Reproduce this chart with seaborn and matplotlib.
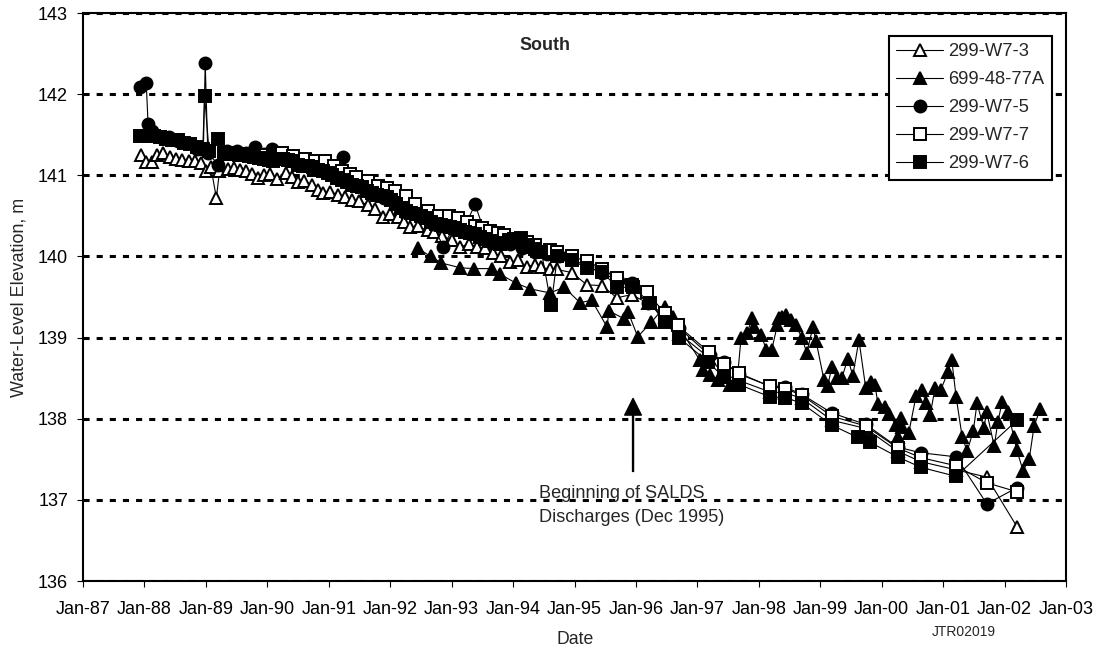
#!/usr/bin/env python3
import matplotlib
matplotlib.use("Agg")
import matplotlib.pyplot as plt
import matplotlib.dates as mdates
import pandas as pd
import seaborn as sns

# sample times as decimal years, elevations in metres
W73_YEARS = [1987.95, 1988.03, 1988.12, 1988.2, 1988.3, 1988.42, 1988.52, 1988.62, 1988.72, 1988.82, 1988.92, 1989.0,
             1989.08, 1989.17, 1989.22, 1989.36, 1989.46, 1989.55, 1989.65, 1989.75, 1989.85, 1989.95, 1990.05,
             1990.16, 1990.3, 1990.4, 1990.5, 1990.6, 1990.73, 1990.82, 1990.9, 1991.02, 1991.15, 1991.27, 1991.38,
             1991.5, 1991.64, 1991.76, 1991.88, 1992.0, 1992.13, 1992.22, 1992.32, 1992.45, 1992.62, 1992.72,
             1992.85, 1993.0, 1993.14, 1993.28, 1993.41, 1993.55, 1993.67, 1993.8, 1993.95, 1994.08, 1994.22,
             1994.35, 1994.45, 1994.6, 1994.71, 1994.96, 1995.2, 1995.45, 1995.69, 1995.93, 1996.2, 1996.47, 1996.7,
             1997.19, 1997.43, 1997.68, 1998.18, 1998.43, 1998.7, 1999.19, 1999.74, 2000.26, 2000.64, 2001.21,
             2001.71, 2002.2]
W73_ELEV = [141.25, 141.16, 141.16, 141.25, 141.28, 141.22, 141.2, 141.19, 141.18, 141.17, 141.15, 141.05,
            141.1, 140.72, 141.05, 141.08, 141.09, 141.07, 141.05, 141.02, 140.97, 141.0, 141.02,
            140.96, 141.03, 140.98, 140.92, 140.93, 140.88, 140.82, 140.78, 140.8, 140.76, 140.73, 140.7,
            140.68, 140.63, 140.58, 140.49, 140.52, 140.49, 140.43, 140.36, 140.37, 140.32, 140.3,
            140.25, 140.2, 140.12, 140.15, 140.12, 140.1, 140.04, 140.0, 139.93, 139.95, 139.87,
            139.9, 139.87, 139.84, 139.84, 139.8, 139.65, 139.64, 139.49, 139.53, 139.42, 139.25, 139.05,
            138.75, 138.55, 138.47, 138.33, 138.32, 138.25, 137.98, 137.88, 137.6, 137.47, 137.37,
            137.28, 136.67]

A77_YEARS = [1992.45, 1992.66, 1992.83, 1993.14, 1993.36, 1993.66, 1993.79, 1994.05, 1994.28, 1994.6, 1994.83,
             1995.09, 1995.28, 1995.53, 1995.56, 1995.81, 1995.87, 1996.03, 1996.25, 1996.47, 1996.6, 1997.04,
             1997.09, 1997.2, 1997.34, 1997.53, 1997.64, 1997.71, 1997.81, 1997.89, 1997.92, 1998.04, 1998.12,
             1998.21, 1998.3, 1998.33, 1998.38, 1998.44, 1998.52, 1998.6, 1998.7, 1998.78, 1998.88, 1998.93,
             1999.06, 1999.12, 1999.19, 1999.27, 1999.35, 1999.45, 1999.53, 1999.63, 1999.74, 1999.83, 1999.89,
             1999.94, 2000.05, 2000.12, 2000.23, 2000.26, 2000.31, 2000.33, 2000.44, 2000.56, 2000.66, 2000.72,
             2000.79, 2000.87, 2000.96, 2001.08, 2001.14, 2001.21, 2001.31, 2001.39, 2001.49, 2001.55, 2001.66,
             2001.71, 2001.83, 2001.89, 2001.96, 2002.06, 2002.15, 2002.2, 2002.3, 2002.4, 2002.48, 2002.58]
A77_ELEV = [140.1, 140.0, 139.92, 139.86, 139.85, 139.85, 139.78, 139.67, 139.6, 139.55, 139.62,
            139.43, 139.46, 139.13, 139.33, 139.23, 139.32, 139.01, 139.19, 139.38, 139.25, 138.72,
            138.6, 138.54, 138.48, 138.42, 138.42, 139.0, 139.06, 139.24, 139.13, 139.03, 138.85,
            138.85, 139.15, 139.24, 139.25, 139.28, 139.22, 139.15, 139.0, 138.81, 139.13, 138.96,
            138.48, 138.4, 138.64, 138.5, 138.5, 138.74, 138.53, 138.97, 138.38, 138.45, 138.42,
            138.18, 138.14, 138.06, 137.92, 137.77, 138.01, 137.9, 137.82, 138.28, 138.35, 138.19,
            138.05, 138.38, 138.35, 138.58, 138.72, 138.27, 137.77, 137.6, 137.85, 138.19, 137.89,
            138.08, 137.66, 137.96, 138.21, 138.08, 137.77, 137.61, 137.36, 137.5, 137.91, 138.12]

W75_YEARS = [1987.93, 1988.03, 1988.06, 1988.12, 1988.25, 1988.4, 1988.55, 1988.7, 1988.85, 1988.96, 1988.99, 1989.03,
             1989.2, 1989.35, 1989.5, 1989.65, 1989.8, 1989.95, 1990.08, 1990.25, 1990.4, 1990.6, 1990.8, 1991.0,
             1991.12, 1991.23, 1991.35, 1991.5, 1991.7, 1991.9, 1992.1, 1992.3, 1992.5, 1992.7, 1992.86, 1993.05,
             1993.2, 1993.38, 1993.55, 1993.75, 1993.95, 1994.15, 1994.35, 1994.55, 1994.75, 1994.95, 1995.2,
             1995.45, 1995.7, 1995.93, 1996.2, 1996.47, 1996.7, 1997.2, 1997.43, 1997.68, 1998.18, 1998.43, 1998.7,
             1999.19, 1999.74, 2000.26, 2000.64, 2001.21, 2001.71, 2002.2]
W75_ELEV = [142.09, 142.14, 141.63, 141.55, 141.47, 141.47, 141.42, 141.4, 141.33, 141.32, 142.38, 141.28,
            141.13, 141.3, 141.3, 141.27, 141.35, 141.26, 141.33, 141.22, 141.18, 141.13, 141.1, 141.03,
            141.0, 141.23, 140.95, 140.88, 140.8, 140.72, 140.65, 140.56, 140.48, 140.4, 140.12, 140.38,
            140.35, 140.64, 140.27, 140.2, 140.15, 140.1, 140.05, 140.03, 140.0, 139.97, 139.88,
            139.8, 139.7, 139.67, 139.42, 139.28, 139.12, 138.78, 138.7, 138.55, 138.4, 138.39, 138.3,
            138.07, 137.93, 137.65, 137.58, 137.53, 136.95, 137.15]

W77_YEARS = [1989.3, 1989.6, 1989.9, 1990.24, 1990.42, 1990.61, 1990.78, 1990.94, 1991.08, 1991.22, 1991.34, 1991.45,
             1991.64, 1991.8, 1991.95, 1992.08, 1992.25, 1992.4, 1992.62, 1992.8, 1992.95, 1993.1, 1993.25, 1993.38,
             1993.5, 1993.62, 1993.75, 1993.85, 1994.1, 1994.22, 1994.36, 1994.6, 1994.71, 1994.96, 1995.2,
             1995.45, 1995.69, 1995.93, 1996.18, 1996.47, 1996.68, 1997.19, 1997.43, 1997.68, 1998.18, 1998.43,
             1998.7, 1999.19, 1999.74, 2000.26, 2000.64, 2001.21, 2001.71, 2002.2]
W77_ELEV = [141.26, 141.26, 141.25, 141.27, 141.24, 141.2, 141.18, 141.17, 141.11, 141.05, 141.01, 140.98,
            140.93, 140.87, 140.84, 140.81, 140.74, 140.65, 140.56, 140.5, 140.5, 140.47, 140.42, 140.38,
            140.35, 140.31, 140.29, 140.26, 140.22, 140.18, 140.14, 140.08, 140.06, 140.0, 139.94,
            139.85, 139.73, 139.65, 139.56, 139.3, 139.15, 138.82, 138.68, 138.56, 138.4, 138.37,
            138.29, 138.03, 137.91, 137.64, 137.52, 137.42, 137.21, 137.1]

W76_YEARS = [1987.93, 1988.05, 1988.15, 1988.25, 1988.35, 1988.45, 1988.55, 1988.65, 1988.75, 1988.85, 1988.95,
             1988.98, 1989.05, 1989.2, 1989.3, 1989.38, 1989.46, 1989.54, 1989.62, 1989.7, 1989.78, 1989.86, 1989.94,
             1990.02, 1990.1, 1990.18, 1990.26, 1990.34, 1990.42, 1990.5, 1990.58, 1990.66, 1990.74, 1990.82,
             1990.9, 1990.98, 1991.06, 1991.14, 1991.22, 1991.3, 1991.38, 1991.46, 1991.54, 1991.62, 1991.7,
             1991.78, 1991.86, 1991.94, 1992.02, 1992.1, 1992.18, 1992.26, 1992.34, 1992.42, 1992.5, 1992.58,
             1992.66, 1992.74, 1992.82, 1992.9, 1992.98, 1993.06, 1993.14, 1993.22, 1993.3, 1993.38, 1993.46,
             1993.54, 1993.62, 1993.7, 1993.78, 1993.86, 1993.94, 1994.02, 1994.13, 1994.25, 1994.36, 1994.46,
             1994.62, 1994.72, 1994.96, 1995.2, 1995.45, 1995.69, 1995.95, 1996.23, 1996.47, 1996.7, 1997.17,
             1997.43, 1997.68, 1998.18, 1998.43, 1998.7, 1999.19, 1999.61, 1999.81, 2000.26, 2000.64, 2001.21, 2002.2]
W76_ELEV = [141.49, 141.48, 141.48, 141.47, 141.45, 141.44, 141.43, 141.4, 141.38, 141.35, 141.33,
            141.98, 141.3, 141.45, 141.28, 141.27, 141.26, 141.25, 141.25, 141.24, 141.22, 141.21, 141.2,
            141.19, 141.17, 141.2, 141.2, 141.19, 141.17, 141.13, 141.12, 141.12, 141.1, 141.07,
            141.05, 141.03, 141.0, 140.97, 140.94, 140.92, 140.88, 140.87, 140.85, 140.81, 140.78,
            140.76, 140.75, 140.73, 140.7, 140.64, 140.6, 140.56, 140.54, 140.52, 140.5, 140.47,
            140.43, 140.4, 140.39, 140.38, 140.36, 140.35, 140.32, 140.3, 140.29, 140.28, 140.24,
            140.22, 140.19, 140.17, 140.15, 140.17, 140.2, 140.21, 140.23, 140.12, 140.09, 140.06,
            139.4, 140.0, 139.95, 139.86, 139.81, 139.62, 139.62, 139.43, 139.19, 139.0, 138.7,
            138.51, 138.42, 138.27, 138.26, 138.19, 137.92, 137.77, 137.71, 137.53, 137.4, 137.29, 137.98]

Y_TICKS = [136, 137, 138, 139, 140, 141, 142, 143]


def to_dates(years):
    return [pd.Timestamp(year=int(y), month=1, day=1) + pd.Timedelta(days=(y % 1) * 365.25) for y in years]


sns.set_style("white")
plt.rcParams["font.family"] = ["Liberation Sans", "DejaVu Sans"]

W, H = 1099, 651
fig = plt.figure(figsize=(W / 100, H / 100), dpi=100)
ax = fig.add_axes([83 / W, (H - 581) / H, (1066 - 83) / W, (581 - 13) / H])

# draw order matters, the 299-W7-6 squares end up on top
series = [
    ("299-W7-3", W73_YEARS, W73_ELEV, "^", "white", 8.6),
    ("699-48-77A", A77_YEARS, A77_ELEV, "^", "black", 9.2),
    ("299-W7-5", W75_YEARS, W75_ELEV, "o", "black", 8.6),
    ("299-W7-7", W77_YEARS, W77_ELEV, "s", "white", 8.4),
    ("299-W7-6", W76_YEARS, W76_ELEV, "s", "black", 8.6),
]
for name, years, elev, marker, face, size in series:
    sns.lineplot(x=to_dates(years), y=elev, ax=ax, sort=False, estimator=None, errorbar=None,
                 color="black", linewidth=0.8, marker=marker, markersize=size,
                 markerfacecolor=face, markeredgecolor="black", markeredgewidth=1.4,
                 label=name, zorder=3)

ax.set_xlim(pd.Timestamp("1987-01-01"), pd.Timestamp("2003-01-01"))
ax.set_ylim(136, 143)
ax.set_yticks(Y_TICKS)
ax.xaxis.set_major_locator(mdates.YearLocator())
ax.xaxis.set_major_formatter(mdates.DateFormatter("%b-%y"))

ax.set_axisbelow(True)
ax.grid(axis="y", color="black", linewidth=2.2, linestyle=(0, (2.0, 2.3)))
ax.grid(axis="x", visible=False)
for spine in ax.spines.values():
    spine.set_visible(True)
    spine.set_color("black")
    spine.set_linewidth(1.5)
ax.tick_params(axis="both", which="major", direction="out", length=4.3, width=0.8,
               color="black", labelcolor="black", labelsize=13, bottom=True, left=True)
ax.tick_params(axis="x", pad=10)
ax.tick_params(axis="y", pad=6.5)

fig.text(19 / W, 1 - 297 / H, "Water-Level Elevation, m", rotation=90, ha="center", va="center", fontsize=12.9)
fig.text(575 / W, 1 - 640 / H, "Date", ha="center", va="center", fontsize=12.7)
fig.text(964 / W, 1 - 632 / H, "JTR02019", ha="center", va="center", fontsize=10)
fig.text(545 / W, 1 - 45 / H, "South", ha="center", va="center", fontsize=12.9, fontweight="bold")

fig.text(539 / W, 1 - 493 / H, "Beginning of SALDS", ha="left", va="center", fontsize=13.1)
fig.text(539 / W, 1 - 517 / H, "Discharges (Dec 1995)", ha="left", va="center", fontsize=13.1)

ax.annotate("", xy=(pd.Timestamp("1995-12-15"), 138.25), xytext=(pd.Timestamp("1995-12-15"), 137.35),
            arrowprops=dict(facecolor="black", edgecolor="black", width=0.7, headwidth=12, headlength=12,
                            shrink=0), zorder=4)

leg = ax.legend(loc="upper right", bbox_to_anchor=((1052 - 83) / (1066 - 83), 1 - (36 - 13) / (581 - 13)),
                borderaxespad=0, fontsize=13.2, frameon=True, fancybox=False, framealpha=1,
                edgecolor="black", handlelength=2.55, labelspacing=0.6, handletextpad=0.3, borderpad=0.4)
leg.get_frame().set_linewidth(1.5)
leg.set_zorder(6)

fig.savefig("out.png", dpi=100)
